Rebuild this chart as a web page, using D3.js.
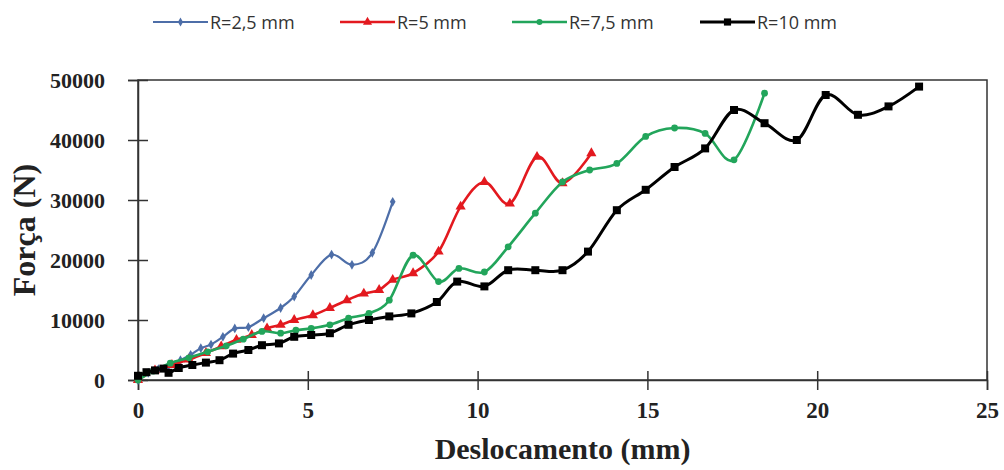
<!DOCTYPE html>
<html><head><meta charset="utf-8">
<script src="https://cdn.jsdelivr.net/npm/d3@7"></script>
<style>body{margin:0;background:#fff}svg{display:block}</style>
</head><body>
<svg id="chart" width="1004" height="470"></svg>
<script>
const seriesNames = ["R=2,5 mm","R=5 mm","R=7,5 mm","R=10 mm"];
const xTicks = [0,5,10,15,20,25];
const yTicks = [0,10000,20000,30000,40000,50000];
const xTitle = "Deslocamento (mm)";
const yTitle = "Força (N)";

const r25 = [[0,0],[0.3,1200],[0.6,1800],[0.9,2400],[1.25,3300],[1.55,4200],[1.85,5300],[2.15,5900],[2.5,7200],[2.85,8600],[3.25,8800],[3.7,10300],[4.2,12000],[4.6,13900],[5.1,17500],[5.7,20900],[6.3,19200],[6.9,21200],[7.5,29700]];
const r5 = [[0,0],[0.5,1600],[1.0,2500],[1.5,3400],[2.0,4500],[2.45,5600],[2.9,6700],[3.35,7500],[3.8,8600],[4.2,9200],[4.6,10000],[5.15,10800],[5.65,12000],[6.15,13300],[6.65,14400],[7.1,15000],[7.5,16700],[8.1,17800],[8.85,21400],[9.5,28900],[10.2,33000],[10.95,29400],[11.75,37200],[12.5,32800],[13.35,37800]];
const r75 = [[0,0],[0.45,1500],[0.95,2800],[1.5,3700],[2.05,4700],[2.6,5700],[3.1,6800],[3.65,8100],[4.2,7800],[4.65,8300],[5.1,8600],[5.65,9200],[6.2,10300],[6.8,11100],[7.4,13300],[8.1,20800],[8.85,16400],[9.45,18600],[10.2,18000],[10.9,22200],[11.7,27800],[12.5,33000],[13.3,35000],[14.1,36100],[14.95,40600],[15.8,42000],[16.7,41100],[17.55,36700],[18.45,47800]];
const r10 = [[0,700],[0.25,1300],[0.5,1600],[0.75,1900],[0.9,1200],[1.2,2000],[1.6,2500],[2.0,2900],[2.4,3300],[2.8,4400],[3.25,5000],[3.65,5800],[4.15,6100],[4.6,7200],[5.1,7500],[5.65,7800],[6.2,9200],[6.8,10000],[7.4,10600],[8.05,11100],[8.8,13000],[9.4,16400],[10.2,15600],[10.9,18300],[11.7,18300],[12.5,18300],[13.25,21400],[14.1,28300],[14.95,31700],[15.8,35500],[16.7,38600],[17.55,45000],[18.45,42800],[19.4,40000],[20.25,47500],[21.2,44200],[22.1,45600],[23.0,48900]];

const seriesData = [r25, r5, r75, r10];
const colors = ["#4d6ea8","#e3191f","#22a55b","#000000"];
const widths = [2.2,2.6,2.6,3];
const symbols = [d3.symbolDiamond, d3.symbolTriangle, d3.symbolCircle, d3.symbolSquare];
const symSizes = [28, 45, 36, 64];

const svg = d3.select("#chart");
const M = {left:138, right:987, top:80, bottom:380};
const x = d3.scaleLinear().domain([0,25]).range([M.left, M.right]);
const y = d3.scaleLinear().domain([0,50000]).range([M.bottom, M.top]);
const axisColor = "#333";
const serif = "'Liberation Serif','Times New Roman',serif";

// frame
svg.append("rect").attr("x",M.left).attr("y",M.top).attr("width",M.right-M.left).attr("height",M.bottom-M.top)
  .attr("fill","none").attr("stroke",axisColor).attr("stroke-width",1.5);

// y axis ticks & labels
const yAxis = d3.axisLeft(y).tickValues(yTicks).tickSize(10).tickFormat(d3.format("d"));
const gy = svg.append("g").attr("transform",`translate(${M.left},0)`).call(yAxis);
gy.select(".domain").attr("stroke",axisColor).attr("stroke-width",1.5);
gy.selectAll(".tick line").attr("stroke",axisColor).attr("stroke-width",1.5).attr("x2",-10).attr("x1",10);
gy.selectAll(".tick text").attr("x",-33).attr("dy","0.35em").attr("fill","#222")
  .style("font-family",serif).style("font-weight","bold").style("font-size","22px");

// x axis
const xAxis = d3.axisBottom(x).tickValues(xTicks).tickSize(10).tickFormat(d3.format("d"));
const gx = svg.append("g").attr("transform",`translate(0,${M.bottom})`).call(xAxis);
gx.select(".domain").attr("stroke",axisColor).attr("stroke-width",1.5);
gx.selectAll(".tick line").attr("stroke",axisColor).attr("stroke-width",1.5).attr("y1",-9).attr("y2",10);
gx.selectAll(".tick text").attr("y",38).attr("dy",0).attr("fill","#222")
  .style("font-family",serif).style("font-weight","bold").style("font-size","23px");

// titles
svg.append("text").attr("x",(M.left+M.right)/2).attr("y",459).attr("text-anchor","middle")
  .style("font-family",serif).style("font-weight","bold").style("font-size","30px").attr("fill","#222").text(xTitle);
svg.append("text").attr("transform",`translate(35,${(M.top+M.bottom)/2}) rotate(-90)`).attr("text-anchor","middle")
  .style("font-family",serif).style("font-weight","bold").style("font-size","32px").attr("fill","#222").text(yTitle);

// series
const line = d3.line().x(d=>x(d[0])).y(d=>y(d[1])).curve(d3.curveCatmullRom.alpha(0));
const plot = svg.append("g");
seriesData.forEach((data,i)=>{
  const g = plot.append("g");
  g.append("path").datum(data).attr("d",line).attr("fill","none")
    .attr("stroke",colors[i]).attr("stroke-width",widths[i]).attr("stroke-linejoin","round");
  g.selectAll("path.m").data(data).enter().append("path").attr("class","m")
    .attr("d",d3.symbol().type(symbols[i]).size(symSizes[i]))
    .attr("transform",d=>`translate(${x(d[0])},${y(d[1])})`)
    .attr("fill",colors[i]);
});

// legend
const legX = [153,340,512,700];
const leg = svg.append("g");
seriesNames.forEach((name,i)=>{
  const g = leg.append("g").attr("transform",`translate(${legX[i]},22)`);
  g.append("line").attr("x1",0).attr("x2",55).attr("y1",0).attr("y2",0)
    .attr("stroke",colors[i]).attr("stroke-width",widths[i]);
  g.append("path").attr("d",d3.symbol().type(symbols[i]).size(symSizes[i]*0.8))
    .attr("transform","translate(27.5,0)").attr("fill",colors[i]);
  g.append("text").attr("x",57).attr("y",7).attr("fill","#333")
    .style("font-family","'Open Sans',sans-serif").style("font-size","18px").text(name);
});
</script>
</body></html>
